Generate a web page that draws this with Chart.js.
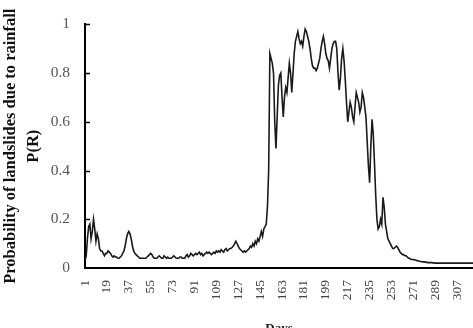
<!DOCTYPE html>
<html>
<head>
<meta charset="utf-8">
<script src="https://cdn.jsdelivr.net/npm/chart.js@4.4.1/dist/chart.umd.min.js"></script>
<style>
  html, body { margin: 0; padding: 0; background: #fff; overflow: hidden; }
  #wrap { width: 473px; height: 328px; overflow: hidden; }
  #box { width: 473px; height: 340px; }
</style>
</head>
<body>
<div id="wrap"><div id="box"><canvas id="probChart"></canvas></div></div>
<script>
// probability of landslides due to rainfall, one value per day (days 1..320)
const probValues = [
  0.03, 0.05, 0.12, 0.17, 0.18, 0.12, 0.15, 0.20, 0.16, 0.11,
  0.14, 0.12, 0.08, 0.07, 0.07, 0.06, 0.05, 0.06, 0.06, 0.07,
  0.065, 0.06, 0.05, 0.045, 0.05, 0.045, 0.045, 0.04, 0.04, 0.045,
  0.05, 0.06, 0.07, 0.09, 0.12, 0.14, 0.15, 0.14, 0.12, 0.09,
  0.07, 0.06, 0.055, 0.05, 0.045, 0.04, 0.04, 0.04, 0.04, 0.04,
  0.04, 0.045, 0.05, 0.055, 0.06, 0.055, 0.045, 0.04, 0.04, 0.04,
  0.045, 0.05, 0.045, 0.04, 0.04, 0.05, 0.045, 0.04, 0.045, 0.04,
  0.04, 0.04, 0.045, 0.05, 0.045, 0.04, 0.04, 0.04, 0.045, 0.045,
  0.04, 0.04, 0.04, 0.05, 0.055, 0.045, 0.05, 0.06, 0.055, 0.05,
  0.055, 0.06, 0.055, 0.06, 0.065, 0.055, 0.06, 0.05, 0.055, 0.06,
  0.065, 0.06, 0.065, 0.06, 0.055, 0.06, 0.065, 0.06, 0.07, 0.065,
  0.07, 0.065, 0.075, 0.07, 0.065, 0.075, 0.08, 0.07, 0.075, 0.08,
  0.08, 0.085, 0.09, 0.10, 0.11, 0.10, 0.09, 0.08, 0.075, 0.07,
  0.065, 0.07, 0.065, 0.07, 0.075, 0.08, 0.09, 0.085, 0.10, 0.09,
  0.11, 0.10, 0.12, 0.11, 0.13, 0.15, 0.13, 0.16, 0.17, 0.18,
  0.25, 0.40, 0.88, 0.86, 0.84, 0.80, 0.60, 0.49, 0.62, 0.75,
  0.79, 0.80, 0.70, 0.62, 0.70, 0.74, 0.72, 0.78, 0.84, 0.80,
  0.72, 0.80, 0.88, 0.93, 0.95, 0.97, 0.94, 0.92, 0.93, 0.91,
  0.95, 0.98, 0.97, 0.95, 0.93, 0.90, 0.86, 0.83, 0.82, 0.82,
  0.81, 0.82, 0.84, 0.86, 0.90, 0.93, 0.95, 0.92, 0.88, 0.86,
  0.85, 0.82, 0.86, 0.90, 0.92, 0.93, 0.93, 0.90, 0.80, 0.73,
  0.78, 0.86, 0.90, 0.85, 0.77, 0.68, 0.60, 0.64, 0.68, 0.66,
  0.62, 0.60, 0.66, 0.72, 0.70, 0.68, 0.64, 0.66, 0.72, 0.70,
  0.66, 0.62, 0.52, 0.42, 0.35, 0.50, 0.61, 0.55, 0.43, 0.30,
  0.20, 0.16, 0.17, 0.20, 0.18, 0.29, 0.25, 0.18, 0.15, 0.12,
  0.11, 0.10, 0.09, 0.08, 0.08, 0.085, 0.09, 0.085, 0.075, 0.065,
  0.06, 0.055, 0.055, 0.05, 0.05, 0.045, 0.04, 0.04, 0.035, 0.035,
  0.035, 0.033, 0.033, 0.03, 0.03, 0.028, 0.027, 0.026, 0.025, 0.025,
  0.024, 0.023, 0.022, 0.022, 0.022, 0.022, 0.021, 0.021, 0.02, 0.02,
  0.02, 0.02, 0.02, 0.02, 0.02, 0.02, 0.02, 0.02, 0.02, 0.02,
  0.02, 0.02, 0.02, 0.02, 0.02, 0.02, 0.02, 0.02, 0.02, 0.02,
  0.02, 0.02, 0.02, 0.02, 0.02, 0.02, 0.02, 0.02, 0.02, 0.02
];
const days = probValues.map((v, i) => i + 1);
const dayTicks = [1, 19, 37, 55, 73, 91, 109, 127, 145, 163, 181, 199, 217, 235, 253, 271, 289, 307];
const probTicks = [0, 0.2, 0.4, 0.6, 0.8, 1];

// small tick marks drawn inside the y axis, like the original
const innerTicks = {
  id: "innerTicks",
  afterDatasetsDraw(chart) {
    const { ctx, chartArea, scales } = chart;
    ctx.save();
    ctx.strokeStyle = "#000";
    ctx.lineWidth = 1.5;
    probTicks.forEach((v) => {
      if (v === 0) return;
      const y = Math.round(scales.y.getPixelForValue(v)) + 0.5;
      ctx.beginPath();
      ctx.moveTo(chartArea.left, y);
      ctx.lineTo(chartArea.left + 5, y);
      ctx.stroke();
    });
    ctx.restore();
  },
};

new Chart(document.getElementById("probChart"), {
  type: "line",
  data: {
    datasets: [
      {
        data: days.map((d, i) => ({ x: d, y: probValues[i] })),
        borderColor: "#1a1a1a",
        borderWidth: 1.6,
        pointRadius: 0,
        tension: 0,
        fill: false,
      },
    ],
  },
  options: {
    responsive: true,
    maintainAspectRatio: false,
    animation: false,
    layout: { padding: { top: 10, right: 0, left: 0, bottom: 0 } },
    plugins: { legend: { display: false }, tooltip: { enabled: false } },
    scales: {
      x: {
        type: "linear",
        min: 1,
        max: days.length,
        afterBuildTicks: (scale) => {
          scale.ticks = dayTicks.map((v) => ({ value: v }));
        },
        afterFit: (scale) => {
          scale.height = 72;
          scale.paddingLeft = 0;
          scale.paddingRight = 0;
        },
        grid: { drawOnChartArea: false, drawTicks: false },
        border: { color: "#000", width: 2 },
        ticks: {
          autoSkip: false,
          minRotation: 90,
          maxRotation: 90,
          padding: 12,
          color: "#444",
          font: { family: "Liberation Serif", size: 13.5 },
        },
        title: {
          display: true,
          text: "Days",
          color: "#222",
          padding: { top: 0, bottom: 4 },
          font: { family: "Liberation Serif", size: 13, weight: "bold" },
        },
      },
      y: {
        min: 0,
        max: 1,
        afterBuildTicks: (scale) => {
          scale.ticks = probTicks.map((v) => ({ value: v }));
        },
        afterFit: (scale) => { scale.width = 85; },
        grid: { drawOnChartArea: false, drawTicks: false },
        border: { color: "#000", width: 2 },
        ticks: {
          padding: 15,
          color: "#555",
          font: { family: "Liberation Serif", size: 15.5 },
          callback: (v) => String(v),
        },
        title: {
          display: true,
          text: ["Probability of landslides due to rainfall", "P(R)"],
          color: "#111",
          padding: 0,
          font: { family: "Liberation Serif", size: 16.5, weight: "bold", lineHeight: 1.35 },
        },
      },
    },
  },
  plugins: [innerTicks],
});
</script>
</body>
</html>
